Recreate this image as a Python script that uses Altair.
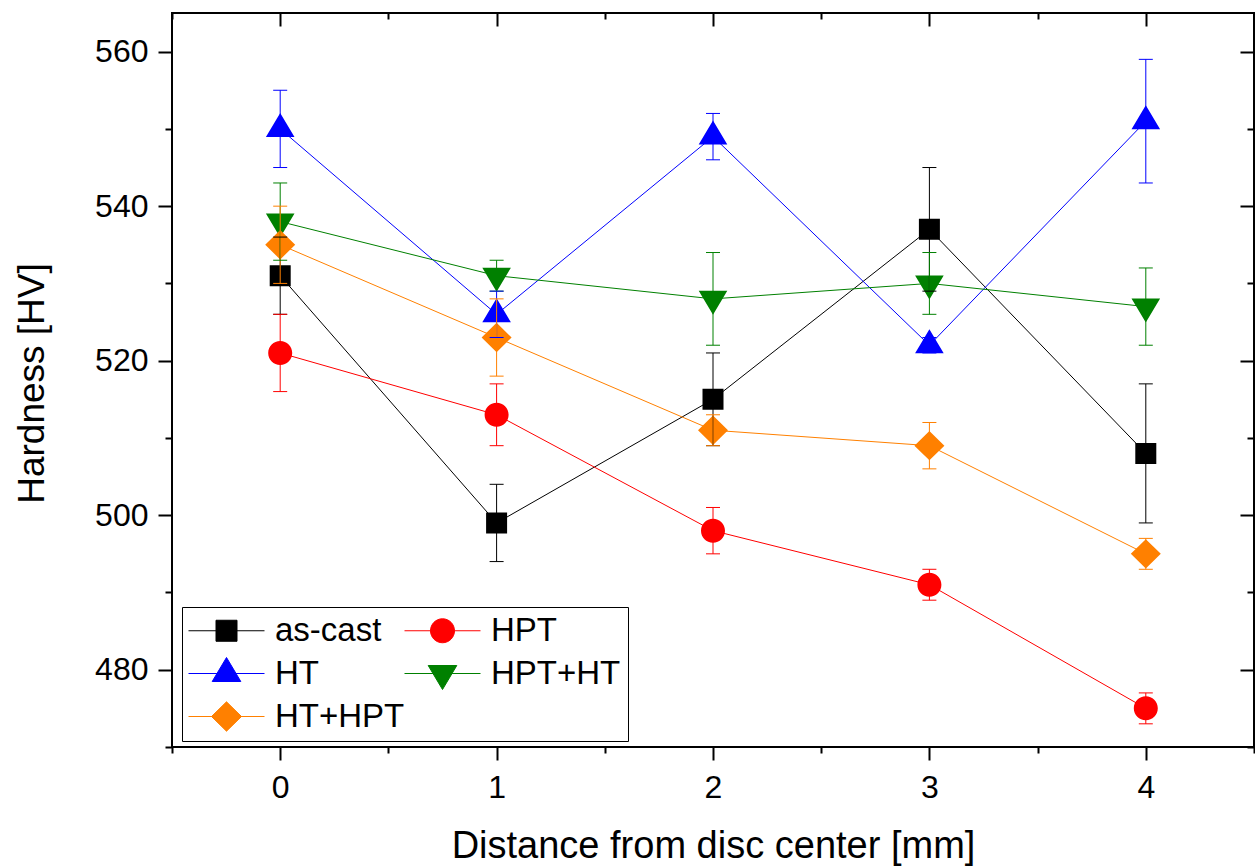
import altair as alt
import pandas as pd

# Measurement positions along the disc radius [mm]
distance = [0, 1, 2, 3, 4]

series_names = ["as-cast", "HPT", "HT", "HPT+HT", "HT+HPT"]
series_colors = ["#000000", "#ff0000", "#0000ff", "#008000", "#ff8000"]

# Vickers hardness (mean) and standard deviation per state
as_cast = [531, 499, 515, 537, 508]
as_cast_err = [5, 5, 6, 8, 9]
hpt = [521, 513, 498, 491, 475]
hpt_err = [5, 4, 3, 2, 2]
ht = [550, 526, 549, 522, 551]
ht_err = [5, 3, 3, 1, 8]
hpt_ht = [538, 531, 528, 530, 527]
hpt_ht_err = [5, 2, 6, 4, 5]
ht_hpt = [535, 523, 511, 509, 495]
ht_hpt_err = [5, 5, 2, 3, 2]

x_major = [0, 1, 2, 3, 4]
x_minor = [-0.5, 0.5, 1.5, 2.5, 3.5, 4.5]
y_major = [480, 500, 520, 540, 560]
y_minor = [470, 490, 510, 530, 550]

# Symbol paths: a horizontal stroke plus the filled marker. Plot markers are
# drawn without stroke, so only the filled body shows; the legend strokes them,
# which gives the "line through marker" key.
shape_paths = [
    "M-3.8,0H3.8M-1.05,-1.05H1.05V1.05H-1.05Z",
    "M-3.8,0H3.8M1.2,0A1.2,1.2,0,1,1,-1.2,0A1.2,1.2,0,1,1,1.2,0Z",
    "M-3.8,0H3.8M0,-1.6L1.43,0.8L-1.43,0.8Z",
    "M-3.8,0H3.8M0,1.6L1.43,-0.8L-1.43,-0.8Z",
    "M-3.8,0H3.8M0,-1.47L1.5,0L0,1.47L-1.5,0Z",
]

values = [as_cast, hpt, ht, hpt_ht, ht_hpt]
errors = [as_cast_err, hpt_err, ht_err, hpt_ht_err, ht_hpt_err]
rows = []
for name, vals, errs in zip(series_names, values, errors):
    for d, v, e in zip(distance, vals, errs):
        rows.append({"series": name, "dist": d, "hv": v, "lo": v - e, "hi": v + e})
df = pd.DataFrame(rows)

W, H = 1082, 734
FONT = "Liberation Sans"

xs = alt.Scale(domain=[-0.5, 4.5], nice=False, zero=False)
ys = alt.Scale(domain=[470, 565], nice=False, zero=False)

legend = alt.Legend(
    title=None, orient="none", legendX=10, legendY=594, columns=2,
    direction="horizontal", gridAlign="each",
    symbolSize=400, symbolStrokeWidth=1, symbolOffset=21, labelOffset=32,
    labelFont=FONT, labelFontSize=33, labelColor="black", labelLimit=400,
    strokeColor="black", fillColor="white", padding=7,
    rowPadding=7, columnPadding=-25,
)

stroke_enc = alt.Stroke("series:N", sort=series_names,
                        scale=alt.Scale(domain=series_names, range=series_colors),
                        legend=legend)
fill_enc = alt.Fill("series:N", sort=series_names,
                    scale=alt.Scale(domain=series_names, range=series_colors),
                    legend=legend)
shape_enc = alt.Shape("series:N", sort=series_names,
                      scale=alt.Scale(domain=series_names, range=shape_paths),
                      legend=legend)


def ax(**kw):
    return alt.Axis(grid=False, domain=False, tickColor="black", tickWidth=2, **kw)


def bare(values, size, orient, offset=0):
    return ax(values=values, tickSize=size, labels=False, title=None,
              orient=orient, offset=offset)


base = alt.Chart(df)

lines = base.mark_line(strokeWidth=1).encode(
    x=alt.X("dist:Q", scale=xs, axis=ax(
        values=x_major, tickSize=13, format="d", orient="bottom",
        labelFont=FONT, labelFontSize=32, labelColor="black", labelPadding=12,
        title="Distance from disc center [mm]", titleFont=FONT, titleFontSize=38,
        titleFontWeight="normal", titleColor="black", titleBaseline="alphabetic",
        titleX=W / 2, titleY=110, titleAlign="center")),
    y=alt.Y("hv:Q", scale=ys, axis=ax(
        values=y_major, tickSize=14, format="d", orient="left",
        labelFont=FONT, labelFontSize=32, labelColor="black", labelPadding=10,
        title="Hardness [HV]", titleFont=FONT, titleFontSize=37,
        titleFontWeight="normal", titleColor="black", titleBaseline="alphabetic",
        titleX=-129, titleY=370, titleAlign="center", titleAngle=270)),
    stroke=stroke_enc,
    order="dist:Q",
)

points = base.mark_point(filled=True, size=400, strokeWidth=0, opacity=1).encode(
    x=alt.X("dist:Q", scale=xs, axis=bare(x_minor, 6, "bottom")),
    y=alt.Y("hv:Q", scale=ys, axis=bare(y_minor, 7, "left")),
    fill=fill_enc,
    shape=shape_enc,
)

bars = base.mark_rule(strokeWidth=1).encode(
    x=alt.X("dist:Q", scale=xs, axis=bare(x_major, 13, "bottom", -H)),
    y=alt.Y("lo:Q", scale=ys, axis=bare(y_major, 14, "left", -W)),
    y2="hi:Q",
    stroke=stroke_enc,
)

caps_lo = base.mark_rule(strokeWidth=1, xOffset=-7, x2Offset=7).encode(
    x=alt.X("dist:Q", scale=xs, axis=bare(x_minor, 6, "bottom", -H)),
    x2="dist:Q",
    y=alt.Y("lo:Q", scale=ys, axis=bare(y_minor, 7, "left", -W)),
    stroke=stroke_enc,
)

caps_hi = base.mark_rule(strokeWidth=1, xOffset=-7, x2Offset=7).encode(
    x=alt.X("dist:Q", scale=xs, axis=None),
    x2="dist:Q",
    y=alt.Y("hi:Q", scale=ys, axis=None),
    stroke=stroke_enc,
)

chart = (
    alt.layer(lines, points, bars, caps_lo, caps_hi)
    .resolve_axis(x="independent", y="independent")
    .properties(
        width=W, height=H,
        autosize=alt.AutoSizeParams(type="none"),
        padding={"left": 172, "top": 13, "right": 1, "bottom": 119},
        background="white",
    )
    .configure_view(stroke="black", strokeWidth=2)
)

chart.save("out.html", embed_options={"renderer": "svg", "actions": False})
